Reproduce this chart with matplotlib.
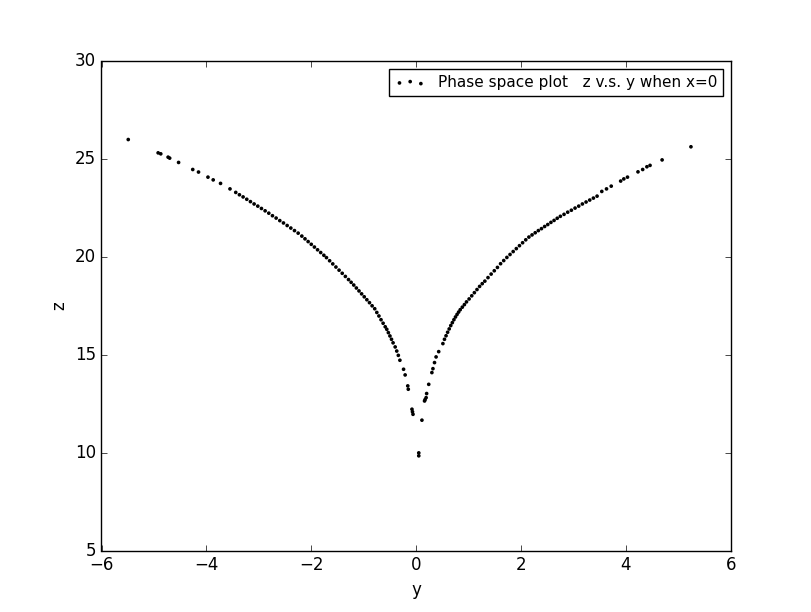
import matplotlib
matplotlib.use('Agg')
import matplotlib.pyplot as plt

plt.style.use('classic')

# left branch (y < 0)
left_y = [-5.49, -4.92, -4.87, -4.73, -4.70, -4.53, -4.26, -4.15, -3.97, -3.87, -3.73, -3.55,
          -3.44, -3.37, -3.30, -3.23, -3.16, -3.09, -3.02, -2.95, -2.88, -2.81, -2.74,
          -2.67, -2.60, -2.53, -2.46, -2.39, -2.32, -2.25,
          -2.18, -2.12, -2.06, -2.00, -1.94, -1.88, -1.82, -1.76, -1.71,
          -1.65, -1.59, -1.53, -1.47, -1.41, -1.35, -1.29, -1.24, -1.19,
          -1.14, -1.09, -1.04, -0.99, -0.94, -0.89, -0.84, -0.79,
          -0.75, -0.71, -0.67, -0.63, -0.59, -0.56, -0.53, -0.50, -0.47, -0.44,
          -0.40, -0.37, -0.34, -0.31, -0.24, -0.21, -0.16, -0.15, -0.08, -0.07, -0.06]
left_z = [26.00, 25.32, 25.27, 25.10, 25.05, 24.83, 24.47, 24.34, 24.08, 23.94, 23.76, 23.48,
          23.30, 23.18, 23.07, 22.95, 22.83, 22.71, 22.60, 22.48, 22.36, 22.24, 22.11,
          21.99, 21.86, 21.74, 21.61, 21.48, 21.35, 21.22,
          21.07, 20.93, 20.79, 20.65, 20.51, 20.37, 20.23, 20.09, 19.97,
          19.81, 19.65, 19.49, 19.33, 19.17, 19.01, 18.85, 18.71, 18.57,
          18.42, 18.27, 18.12, 17.97, 17.82, 17.67, 17.51, 17.36,
          17.17, 16.99, 16.80, 16.62, 16.44, 16.31, 16.14, 15.97, 15.80, 15.62,
          15.41, 15.20, 14.98, 14.73, 14.27, 13.98, 13.42, 13.25, 12.23, 12.10, 11.97]

# right branch (y > 0)
right_y = [0.05, 0.05, 0.11, 0.16, 0.17, 0.19, 0.20, 0.24, 0.30, 0.32, 0.35, 0.38, 0.43, 0.51, 0.54,
           0.57, 0.60, 0.63, 0.66, 0.69, 0.72, 0.75, 0.78, 0.81, 0.84, 0.88, 0.92, 0.96,
           1.01, 1.06, 1.11, 1.16, 1.21, 1.26, 1.31, 1.37, 1.43, 1.49, 1.55, 1.61,
           1.67, 1.73, 1.79, 1.85, 1.91, 1.97, 2.03, 2.09, 2.15,
           2.21, 2.27, 2.33, 2.39, 2.45, 2.51, 2.57, 2.63, 2.69, 2.75,
           2.82, 2.89, 2.96, 3.03, 3.10, 3.17, 3.24, 3.31, 3.38, 3.45,
           3.54, 3.63, 3.72, 3.90, 3.96, 4.03, 4.23, 4.32, 4.40, 4.46, 4.69, 5.24]
right_z = [10.00, 9.85, 11.67, 12.65, 12.72, 12.82, 13.03, 13.50, 14.10, 14.30, 14.61, 14.90, 15.17, 15.58, 15.80,
           15.98, 16.16, 16.33, 16.50, 16.65, 16.80, 16.94, 17.07, 17.19, 17.31, 17.44, 17.57, 17.71,
           17.86, 18.02, 18.18, 18.34, 18.50, 18.64, 18.77, 18.95, 19.13, 19.30, 19.47, 19.66,
           19.82, 19.98, 20.13, 20.28, 20.43, 20.58, 20.73, 20.88, 21.02,
           21.13, 21.24, 21.35, 21.45, 21.56, 21.66, 21.77, 21.87, 21.98, 22.08,
           22.18, 22.29, 22.39, 22.50, 22.60, 22.71, 22.81, 22.91, 23.01, 23.11,
           23.35, 23.48, 23.62, 23.88, 23.99, 24.08, 24.35, 24.47, 24.61, 24.68, 24.96, 25.63]

ys = left_y + right_y
zs = left_z + right_z

fig = plt.figure(figsize=(8.12, 6.12), dpi=100)
ax = fig.add_subplot(111)
ax.scatter(ys, zs, s=7, c='k', edgecolors='none', label='Phase space plot   z v.s. y when x=0')
ax.set_xlim(-6, 6)
ax.set_ylim(5, 30)
ax.set_xlabel('y')
ax.set_ylabel('z')
ax.legend(loc='upper right', fontsize=11, scatterpoints=3)
fig.savefig('out.png', dpi=100)
